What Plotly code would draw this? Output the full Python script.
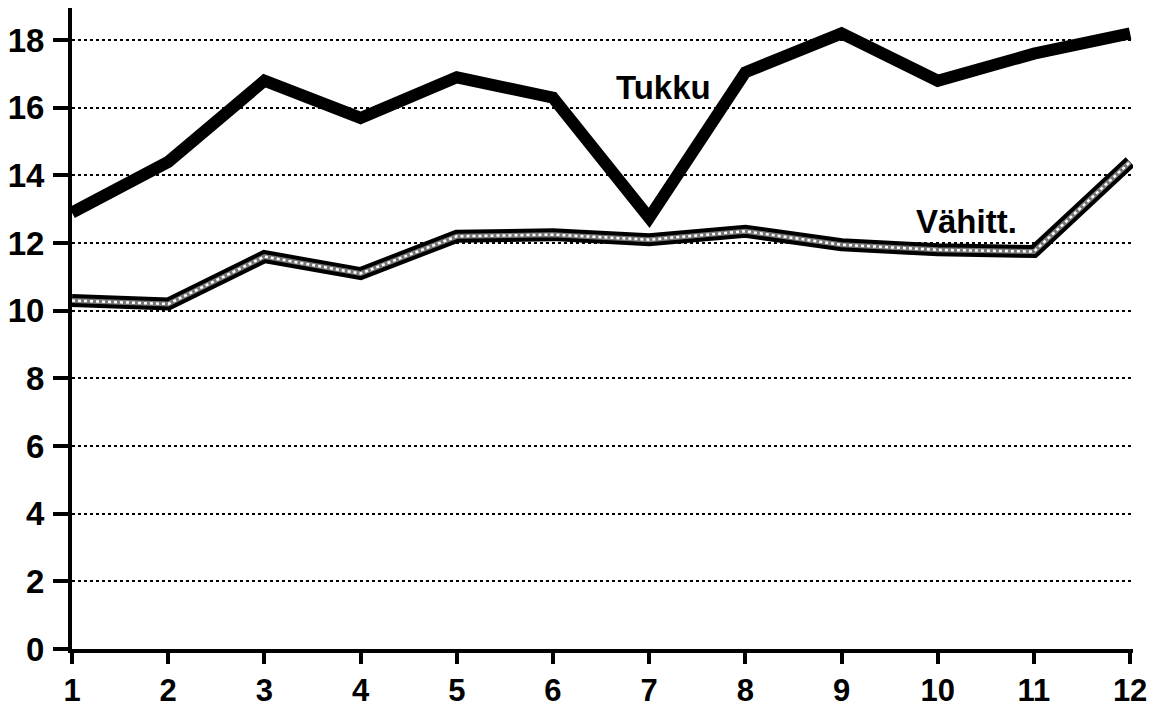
import plotly.graph_objects as go

months = [1, 2, 3, 4, 5, 6, 7, 8, 9, 10, 11, 12]
tukku = [12.9, 14.4, 16.8, 15.7, 16.9, 16.3, 12.75, 17.05, 18.2, 16.8, 17.6, 18.2]
vahitt = [10.3, 10.2, 11.6, 11.1, 12.2, 12.25, 12.1, 12.35, 11.95, 11.8, 11.75, 14.4]
y_ticks = [0, 2, 4, 6, 8, 10, 12, 14, 16, 18]
label_tukku = "Tukku"
label_vahitt = "Vähitt."

FONT = "Liberation Sans, Arial, Helvetica"

fig = go.Figure()
# Vähitt: black band with white speckled centre
fig.add_trace(go.Scatter(x=months, y=vahitt, mode="lines",
                         line=dict(color="black", width=13), showlegend=False))
fig.add_trace(go.Scatter(x=months, y=vahitt, mode="lines",
                         line=dict(color="#777777", width=5), hoverinfo="skip", showlegend=False))
fig.add_trace(go.Scatter(x=months, y=vahitt, mode="lines",
                         line=dict(color="white", width=2.5, dash="dot"), hoverinfo="skip", showlegend=False))
# Tukku: thick black
fig.add_trace(go.Scatter(x=months, y=tukku, mode="lines",
                         line=dict(color="black", width=12), showlegend=False))

fig.add_annotation(x=7.15, y=16.6, text=label_tukku, showarrow=False,
                   font=dict(family=FONT, size=33, color="black", weight="bold"))
fig.add_annotation(x=10.3, y=12.65, text=label_vahitt, showarrow=False,
                   font=dict(family=FONT, size=33, color="black", weight="bold"))

fig.update_layout(
    width=1157, height=700,
    margin=dict(l=64, r=32, t=0, b=59, pad=0),
    paper_bgcolor="white", plot_bgcolor="white",
    font=dict(family=FONT, color="black"),
    xaxis=dict(range=[1, 12.03], tickmode="array", tickvals=months,
               ticktext=[str(m) for m in months],
               showgrid=False, zeroline=False, automargin=False,
               showline=True, linecolor="black", linewidth=4,
               ticks="outside", ticklen=11, tickwidth=4, tickcolor="black",
               tickfont=dict(size=31, family=FONT, weight="bold")),
    yaxis=dict(range=[0, 18.95], tickmode="array", tickvals=y_ticks,
               ticktext=[str(v) for v in y_ticks],
               showgrid=True, gridcolor="black", gridwidth=1.5, griddash="dot",
               zeroline=False, automargin=False,
               showline=True, linecolor="black", linewidth=4,
               ticks="outside", ticklen=15, tickwidth=4, tickcolor="black",
               ticklabelstandoff=2,
               tickfont=dict(size=33, family=FONT, weight="bold")),
)

fig.write_html("out.html")
